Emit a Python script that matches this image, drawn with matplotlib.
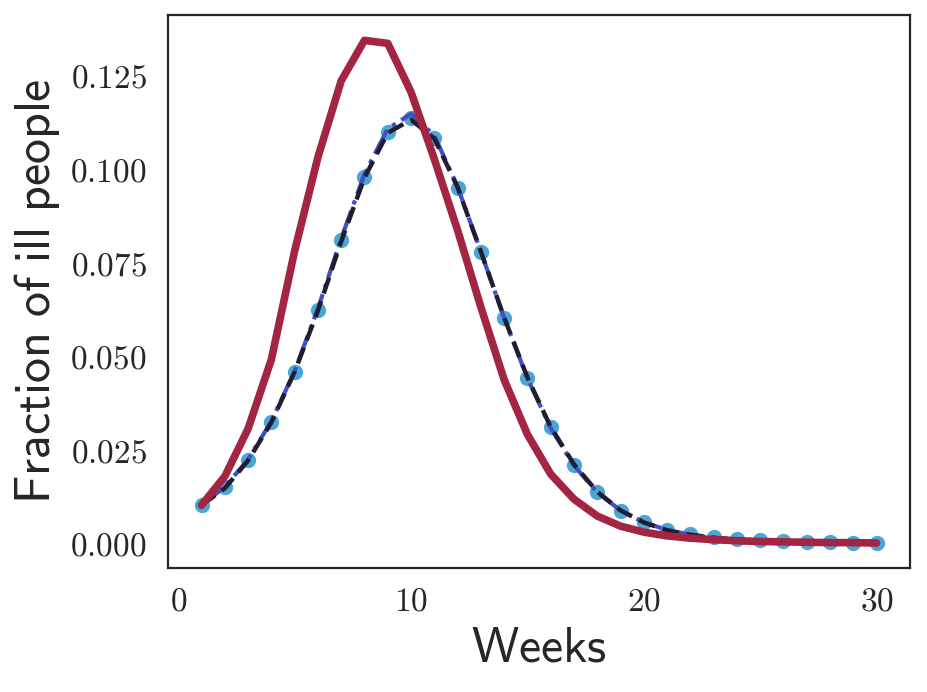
import matplotlib
matplotlib.use("Agg")
import matplotlib.pyplot as plt
from matplotlib.ticker import FuncFormatter

weeks = list(range(1, 31))
observed = [0.0101, 0.0149, 0.0222, 0.0323, 0.0457, 0.0622, 0.0808, 0.0976, 0.1098, 0.1134,
            0.1082, 0.0949, 0.0777, 0.0601, 0.0441, 0.0309, 0.0209, 0.0135, 0.0086, 0.0055,
            0.0034, 0.0023, 0.0015, 0.0011, 0.0007, 0.0005, 0.0003, 0.0002, 0.0001, 0.0001]
model_fit = [0.0101, 0.0150, 0.0223, 0.0325, 0.0459, 0.0626, 0.0813, 0.0985, 0.1106, 0.1146,
             0.1088, 0.0951, 0.0778, 0.0601, 0.0440, 0.0307, 0.0207, 0.0135, 0.0087, 0.0055,
             0.0035, 0.0022, 0.0014, 0.0009, 0.0006, 0.0004, 0.0002, 0.0002, 0.0001, 0.0001]
model_est = [0.0101, 0.0146, 0.0220, 0.0322, 0.0457, 0.0620, 0.0805, 0.0975, 0.1095, 0.1130,
             0.1080, 0.0950, 0.0778, 0.0602, 0.0442, 0.0310, 0.0210, 0.0137, 0.0087, 0.0055,
             0.0034, 0.0022, 0.0014, 0.0009, 0.0006, 0.0004, 0.0002, 0.0002, 0.0001, 0.0001]
model_alt = [0.0101, 0.0178, 0.0305, 0.0490, 0.0780, 0.1030, 0.1234, 0.1342, 0.1334, 0.1204,
             0.1025, 0.0835, 0.0630, 0.0436, 0.0290, 0.0184, 0.0117, 0.0072, 0.0045, 0.0029,
             0.0019, 0.0013, 0.0009, 0.0006, 0.0004, 0.0003, 0.0002, 0.0001, 0.0001, 0.0000]
y_ticks = [0.0, 0.025, 0.05, 0.075, 0.1, 0.125]
x_ticks = [0, 10, 20, 30]

plt.rcParams["mathtext.fontset"] = "cm"

fig = plt.figure(figsize=(9.27, 6.92), dpi=100)
ax = fig.add_axes([0.181, 0.179, 0.801, 0.799])

ax.plot(weeks, observed, "o", color="#4ba6d6", ms=10, zorder=2)
ax.plot(weeks, model_fit, "-.", color="#3f4fc2", lw=3, zorder=3)
ax.plot(weeks, model_est, "--", color="#221d2e", lw=3.2, zorder=4, dashes=(3.8, 1.8))
ax.plot(weeks, model_alt, "-", color="#a32541", lw=5.5, zorder=5,
        solid_capstyle="round", solid_joinstyle="round")

ax.set_xticks(x_ticks)
ax.set_yticks(y_ticks)
ax.xaxis.set_major_formatter(FuncFormatter(lambda v, p: f"${v:.0f}$"))
ax.yaxis.set_major_formatter(FuncFormatter(lambda v, p: f"${v:.3f}$"))
ax.tick_params(labelsize=24, length=0, colors="#262626")
ax.tick_params(axis="y", pad=15)
ax.tick_params(axis="x", pad=12)

ax.set_xlabel(r"$\mathsf{Weeks}$", fontsize=36, color="#262626", labelpad=4)
ax.set_ylabel(r"$\mathsf{Fraction\ of\ ill\ people}$", fontsize=36, color="#262626", labelpad=6)

for spine in ax.spines.values():
    spine.set_color("#262626")
    spine.set_linewidth(1.6)

fig.savefig("out.png", dpi=100)
